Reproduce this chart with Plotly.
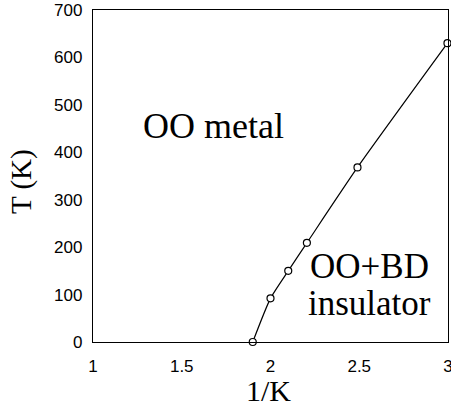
import plotly.graph_objects as go

inv_k = [1.90, 2.00, 2.10, 2.205, 2.49, 2.997]
temp_k = [0, 92, 150, 209, 368, 630]

x_ticks = [1, 1.5, 2, 2.5, 3]
x_tick_text = ["1", "1.5", "2", "2.5", "3"]
y_ticks = [0, 100, 200, 300, 400, 500, 600, 700]

serif = "Liberation Serif, Times New Roman, serif"
sans = "Liberation Sans, Arial, sans-serif"

fig = go.Figure()
fig.add_trace(go.Scatter(
    x=inv_k, y=temp_k, mode="lines+markers",
    line=dict(color="black", width=1.2, shape="spline", smoothing=0.6),
    marker=dict(symbol="circle", size=7, color="white",
                line=dict(color="black", width=1.2)),
    cliponaxis=False, showlegend=False, hoverinfo="skip",
))

axis_common = dict(showgrid=False, zeroline=False, showline=True, mirror=True,
                   linecolor="black", linewidth=1.3, ticks="outside",
                   tickcolor="rgba(0,0,0,0)", ticklabeloverflow="allow",
                   automargin=False,
                   tickfont=dict(family=sans, size=17))

fig.update_layout(
    width=451, height=404,
    margin=dict(l=93, r=3, t=10, b=62),
    paper_bgcolor="white", plot_bgcolor="white",
    font=dict(family=sans, size=17, color="black"),
    xaxis=dict(range=[1, 3], tickvals=x_ticks, ticktext=x_tick_text,
               ticklen=8, **axis_common),
    yaxis=dict(range=[0, 700], tickvals=y_ticks, ticklen=6, **axis_common),
    annotations=[
        dict(text="OO metal", x=1.68, y=455, xref="x", yref="y",
             showarrow=False, font=dict(family=serif, size=36)),
        dict(text="OO+BD", x=2.56, y=160, xref="x", yref="y",
             showarrow=False, font=dict(family=serif, size=35)),
        dict(text="insulator", x=2.56, y=82, xref="x", yref="y",
             showarrow=False, font=dict(family=serif, size=35)),
        dict(text="1/K", x=0.495, y=-0.146, xref="paper", yref="paper",
             xanchor="center", yanchor="middle", showarrow=False,
             font=dict(family=serif, size=30)),
        dict(text="T (K)", x=-0.2, y=0.482, xref="paper", yref="paper",
             xanchor="center", yanchor="middle", textangle=-90,
             showarrow=False, font=dict(family=serif, size=29)),
    ],
)

fig.write_html("out.html",
               config={"displayModeBar": False},
               post_script="document.body.style.margin='0';"
                           "document.body.style.padding='0';"
                           "document.body.style.overflow='hidden';")
